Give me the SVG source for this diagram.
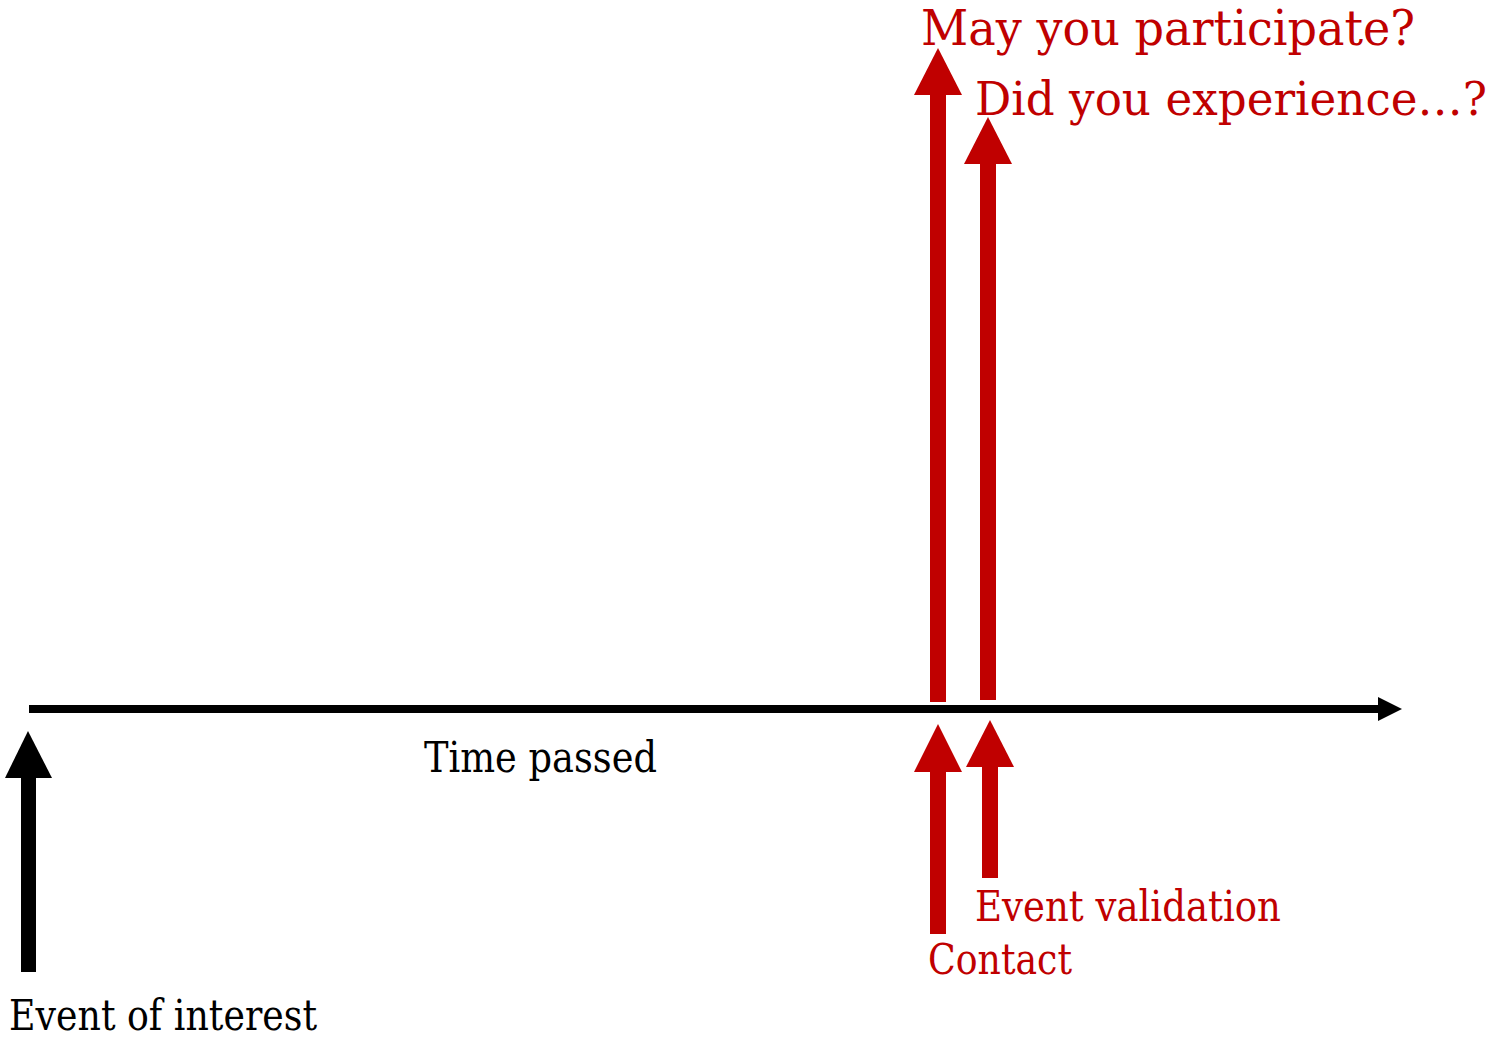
<svg xmlns="http://www.w3.org/2000/svg" width="1494" height="1038" viewBox="0 0 1494 1038">
<style>
text{font-family:"DejaVu Serif","Liberation Serif",serif;}
.red{fill:#C00000;}
.blk{fill:#000;}
.big{font-size:48px;}
.sm{font-size:42px;}
</style>
<rect width="1494" height="1038" fill="#fff"/>
<g id="connectors">
<g id="timeline">
<rect x="29" y="705" width="1352" height="8" fill="#000"/>
<polygon points="1378,697 1402,709 1378,721" fill="#000"/>
</g>
</g>
<g id="event-of-interest">
<rect x="21" y="776" width="15" height="196" fill="#000"/>
<polygon points="28,731 52,778 5,778" fill="#000"/>
<text class="blk sm" x="9" y="1030" textLength="308" lengthAdjust="spacingAndGlyphs">Event of interest</text>
</g>
<g id="time-passed">
<text class="blk sm" x="424" y="772" textLength="233" lengthAdjust="spacingAndGlyphs">Time passed</text>
</g>
<g id="may-participate">
<rect x="930" y="93" width="16" height="609" fill="#C00000"/>
<polygon points="938,48 962,95 914,95" fill="#C00000"/>
<text class="red big" x="921" y="45" textLength="494" lengthAdjust="spacingAndGlyphs">May you participate?</text>
</g>
<g id="did-experience">
<rect x="980" y="162" width="16" height="538" fill="#C00000"/>
<polygon points="988,117 1012,164 964,164" fill="#C00000"/>
<text class="red" x="975" y="115" font-size="46" textLength="512" lengthAdjust="spacingAndGlyphs">Did you experience…?</text>
</g>
<g id="contact">
<rect x="930" y="770" width="16" height="164" fill="#C00000"/>
<polygon points="938,724 962,772 914,772" fill="#C00000"/>
<text class="red sm" x="928" y="974" textLength="144" lengthAdjust="spacingAndGlyphs">Contact</text>
</g>
<g id="event-validation">
<rect x="982" y="765" width="16" height="113" fill="#C00000"/>
<polygon points="990,720 1014,767 966,767" fill="#C00000"/>
<text class="red sm" x="975" y="921" textLength="306" lengthAdjust="spacingAndGlyphs">Event validation</text>
</g>
</svg>
